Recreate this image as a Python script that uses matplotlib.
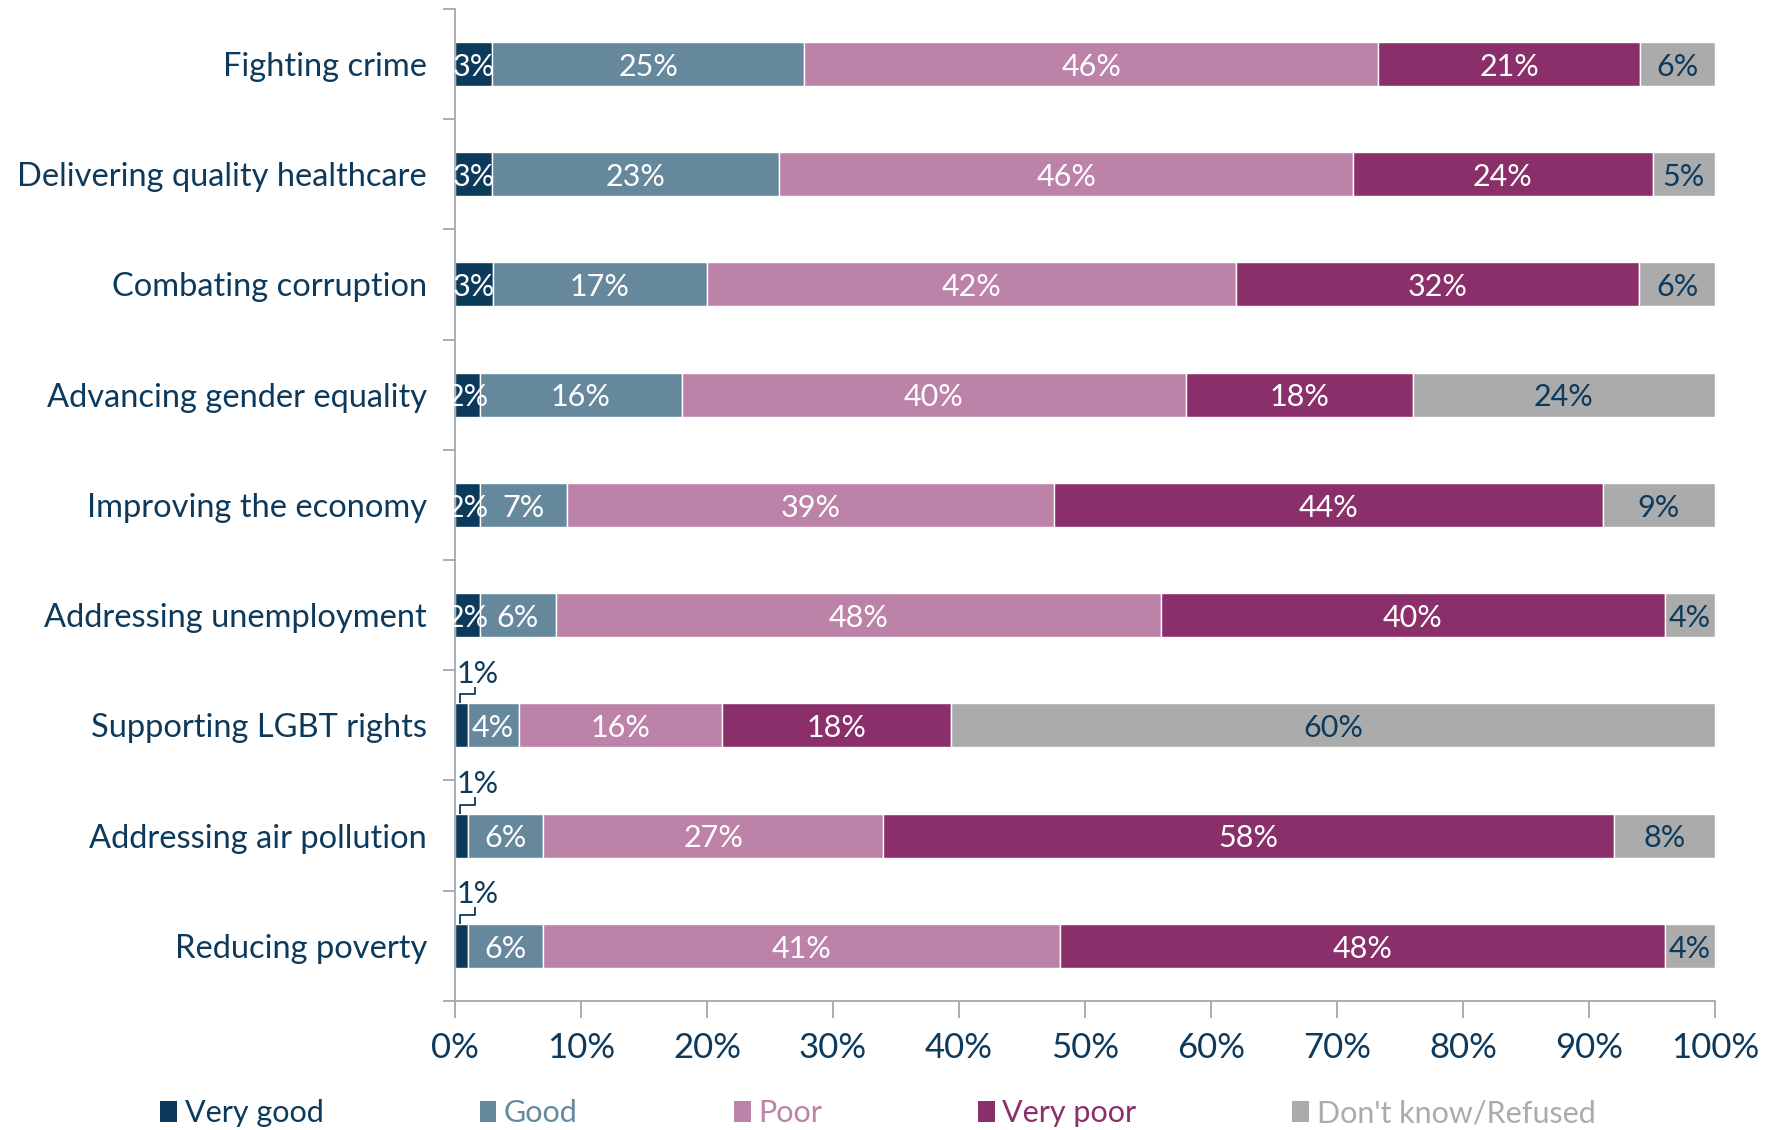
# Stacked 100% bar chart: rating of government performance by issue

import numpy as np
import matplotlib.pyplot as plt
from matplotlib.patches import Patch

plt.rcParams['font.family'] = ['Lato', 'DejaVu Sans']

issues = [
    "Fighting crime",
    "Delivering quality healthcare",
    "Combating corruption",
    "Advancing gender equality",
    "Improving the economy",
    "Addressing unemployment",
    "Supporting LGBT rights",
    "Addressing air pollution",
    "Reducing poverty",
]
categories = ["Very good", "Good", "Poor", "Very poor", "Don't know/Refused"]

very_good = [3, 3, 3, 2, 2, 2, 1, 1, 1]
good      = [25, 23, 17, 16, 7, 6, 4, 6, 6]
poor      = [46, 46, 42, 40, 39, 48, 16, 27, 41]
very_poor = [21, 24, 32, 18, 44, 40, 18, 58, 48]
dont_know = [6, 5, 6, 24, 9, 4, 60, 8, 4]

colors = ["#0b3a5b", "#66889d", "#bd82a8", "#8b2f6a", "#ababab"]
text_colors = ["white", "white", "white", "white", "#0d3a5c"]
navy = "#0d3a5c"
grey_axis = "#a3a7ae"

values = np.array([very_good, good, poor, very_poor, dont_know], dtype=float)
totals = values.sum(axis=0)
shares = values / totals * 100  # bars are normalised to 100%

fig = plt.figure(figsize=(17.73, 11.30), dpi=100)
ax = fig.add_axes([0.2566, 0.1142, 0.7107, 0.878])

y = np.arange(len(issues))
left = np.zeros(len(issues))
for k, cat in enumerate(categories):
    ax.barh(y, shares[k], left=left, height=0.4, color=colors[k],
            edgecolor="white", linewidth=1.0, label=cat)
    for i in range(len(issues)):
        v = values[k, i]
        cx = left[i] + shares[k, i] / 2
        if v <= 1:
            # small segment: label above with an elbow leader
            x0 = left[i] + shares[k, i] * 0.4
            ax.plot([x0, x0, x0 + 1.2, x0 + 1.2],
                    [i - 0.2, i - 0.28, i - 0.28, i - 0.35],
                    color=navy, lw=1.3, solid_capstyle="butt", clip_on=False)
            ax.text(x0 + 1.4, i - 0.47, f"{int(v)}%", ha="center", va="center",
                    color=navy, fontsize=22)
        else:
            ax.text(cx, i + 0.025, f"{int(v)}%", ha="center", va="center",
                    color=text_colors[k], fontsize=22)
    left += shares[k]

ax.set_xlim(0, 100)
ax.set_ylim(len(issues) - 0.5, -0.5)
ax.set_xticks(np.arange(0, 101, 10))
ax.set_xticklabels([f"{t}%" for t in range(0, 101, 10)])
ax.set_yticks(y)
ax.set_yticklabels(issues)
ax.set_yticks(np.arange(-0.5, len(issues), 1), minor=True)

ax.tick_params(axis="x", length=12, width=1.3, color=grey_axis, labelsize=25,
               labelcolor=navy, pad=10)
ax.tick_params(axis="y", which="major", length=0, labelsize=23.5,
               labelcolor=navy, pad=20)
ax.tick_params(axis="y", which="minor", length=9, width=1.3, color=grey_axis)

for side in ["top", "right"]:
    ax.spines[side].set_visible(False)
for side in ["left", "bottom"]:
    ax.spines[side].set_color(grey_axis)
    ax.spines[side].set_linewidth(1.3)

handles = [Patch(facecolor=c, edgecolor="none") for c in colors]
fig.legend(handles, categories, loc="lower left", bbox_to_anchor=(0.075, -0.022),
           ncol=5, frameon=False, fontsize=22, handlelength=0.55, handleheight=0.7,
           handletextpad=0.25, columnspacing=5.1, labelcolor=colors)

fig.savefig("out.png", dpi=100)
